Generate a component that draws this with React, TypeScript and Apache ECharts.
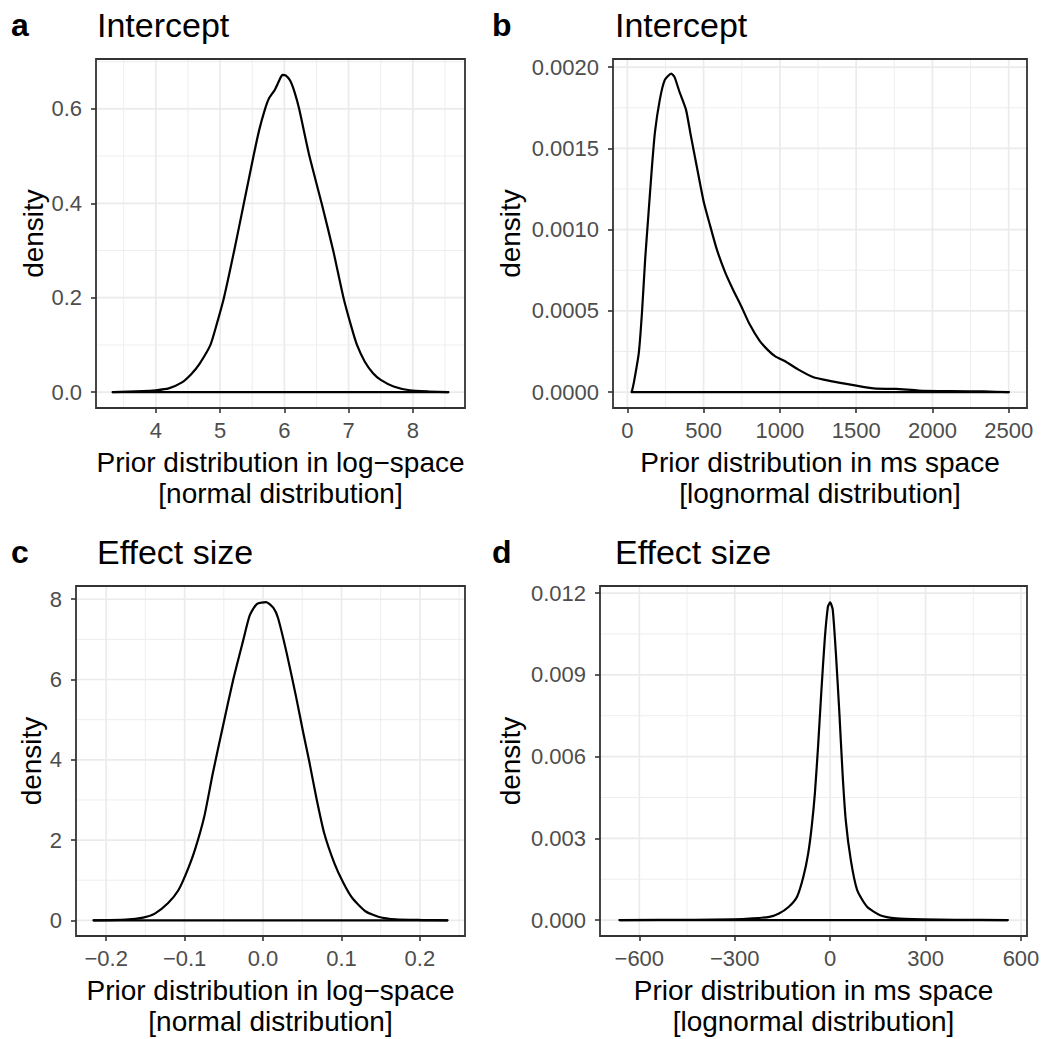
import React, { useEffect, useRef } from 'react';
import * as echarts from 'echarts';

const FONT = "'Liberation Sans', Arial, Helvetica, sans-serif";

// ---------- Panel a : Intercept, log-space (normal) ----------
const aDensity: [number, number][] = [
  [3.33, 0], [3.8, 0.002], [4.0, 0.004], [4.2, 0.008], [4.4, 0.02], [4.55, 0.038], [4.68, 0.06],
  [4.85, 0.1], [4.95, 0.145], [5.06, 0.2], [5.22, 0.3], [5.37, 0.4], [5.52, 0.5], [5.61, 0.556],
  [5.7, 0.6], [5.76, 0.622], [5.85, 0.64], [5.92, 0.66], [5.97, 0.672], [6.02, 0.671], [6.09, 0.66],
  [6.16, 0.635], [6.23, 0.6], [6.39, 0.5], [6.58, 0.4], [6.76, 0.3], [6.92, 0.2], [7.05, 0.135],
  [7.13, 0.1], [7.25, 0.065], [7.38, 0.04], [7.5, 0.026], [7.7, 0.012], [7.95, 0.004], [8.25, 0.0014],
  [8.55, 0],
];
const aXTicks = [4, 5, 6, 7, 8];
const aXMinor = [3.5, 4.5, 5.5, 6.5, 7.5, 8.5];
const aYTicks = [0, 0.2, 0.4, 0.6];
const aYMinor = [0.1, 0.3, 0.5, 0.7];

// ---------- Panel b : Intercept, ms space (lognormal) ----------
const bDensity: [number, number][] = [
  [29, 0], [43, 0.00006], [75, 0.00024], [96, 0.00049], [117, 0.00082], [138, 0.00109], [160, 0.00137],
  [181, 0.0016], [213, 0.0018], [245, 0.00192], [288, 0.00196], [309, 0.00194], [341, 0.00185],
  [384, 0.00174], [416, 0.00158], [459, 0.00137], [501, 0.00117], [544, 0.00102], [586, 0.00088],
  [640, 0.00074], [693, 0.00063], [746, 0.00053], [800, 0.00042], [864, 0.00032], [920, 0.00026],
  [970, 0.00022], [1034, 0.00019], [1119, 0.00014], [1216, 0.000093], [1333, 0.000068], [1482, 0.000043],
  [1631, 0.000021], [1760, 0.00002], [1909, 0.00001], [2122, 0.000006], [2336, 0.000004], [2500, 0],
];
const bXTicks = [0, 500, 1000, 1500, 2000, 2500];
const bXMinor = [250, 750, 1250, 1750, 2250];
const bYTicks = [0, 0.0005, 0.001, 0.0015, 0.002];
const bYMinor = [0.00025, 0.00075, 0.00125, 0.00175];

// ---------- Panel c : Effect size, log-space (normal) ----------
const cDensity: [number, number][] = [
  [-0.216, 0], [-0.175, 0.017], [-0.153, 0.067], [-0.138, 0.167], [-0.121, 0.43], [-0.108, 0.75],
  [-0.098, 1.17], [-0.087, 1.75], [-0.075, 2.58], [-0.064, 3.67], [-0.051, 4.85], [-0.038, 6.0],
  [-0.025, 7.0], [-0.017, 7.6], [-0.008, 7.88], [0.004, 7.93], [0.013, 7.79], [0.019, 7.54],
  [0.03, 6.67], [0.042, 5.58], [0.051, 4.7], [0.059, 3.95], [0.068, 3.05], [0.078, 2.17],
  [0.091, 1.42], [0.102, 0.95], [0.114, 0.55], [0.131, 0.22], [0.148, 0.083], [0.169, 0.025],
  [0.203, 0.008], [0.235, 0],
];
const cXTicks = [-0.2, -0.1, 0, 0.1, 0.2];
const cXMinor = [-0.15, -0.05, 0.05, 0.15, 0.25];
const cYTicks = [0, 2, 4, 6, 8];
const cYMinor = [1, 3, 5, 7];

// ---------- Panel d : Effect size, ms space (lognormal) ----------
const dDensity: [number, number][] = [
  [-662, 0], [-427, 0.000012], [-304, 0.000024], [-243, 0.00006], [-191, 0.00012], [-161, 0.00024],
  [-130, 0.00049], [-104, 0.00086], [-84, 0.0016], [-69, 0.00245], [-58, 0.00343], [-48, 0.00465],
  [-38, 0.00637], [-28, 0.00833], [-17, 0.0103], [-7, 0.0115], [0, 0.01166], [8, 0.0114],
  [18, 0.0098], [29, 0.0076], [39, 0.00539], [49, 0.00367], [65, 0.0022], [85, 0.0011],
  [116, 0.00049], [157, 0.00018], [208, 0.00006], [290, 0.000024], [392, 0.000012], [558, 0],
];
const dXTicks = [-600, -300, 0, 300, 600];
const dXMinor = [-450, -150, 150, 450];
const dYTicks = [0, 0.003, 0.006, 0.009, 0.012];
const dYMinor = [0.0015, 0.0045, 0.0075, 0.0105];

const tags = ['a', 'b', 'c', 'd'];
const titles = ['Intercept', 'Intercept', 'Effect size', 'Effect size'];
const xTitles = [
  'Prior distribution in log\u2212space\n[normal distribution]',
  'Prior distribution in ms space\n[lognormal distribution]',
  'Prior distribution in log\u2212space\n[normal distribution]',
  'Prior distribution in ms space\n[lognormal distribution]',
];
const yTitle = 'density';

const minus = (s: string) => s.replace('-', '\u2212');

const panels = [
  {
    data: aDensity, xT: aXTicks, xM: aXMinor, yT: aYTicks, yM: aYMinor,
    grid: { left: 96, top: 59, width: 369, height: 349 },
    xr: [3.069, 8.811], yr: [-0.0336, 0.7056],
    xf: (v: number) => String(v), yf: (v: number) => v.toFixed(1), yGap: 49,
  },
  {
    data: bDensity, xT: bXTicks, xM: bXMinor, yT: bYTicks, yM: bYMinor,
    grid: { left: 613, top: 59, width: 414, height: 349 },
    xr: [-94, 2620], yr: [-0.0000978, 0.00205],
    xf: (v: number) => String(v), yf: (v: number) => v.toFixed(4), yGap: 89,
  },
  {
    data: cDensity, xT: cXTicks, xM: cXMinor, yT: cYTicks, yM: cYMinor,
    grid: { left: 76, top: 586, width: 389, height: 350 },
    xr: [-0.2385, 0.2575], yr: [-0.39, 8.33],
    xf: (v: number) => minus(v.toFixed(1)), yf: (v: number) => String(v), yGap: 29,
  },
  {
    data: dDensity, xT: dXTicks, xM: dXMinor, yT: dYTicks, yM: dYMinor,
    grid: { left: 600, top: 586, width: 427, height: 350 },
    xr: [-723.6, 618.9], yr: [-0.000584, 0.01226],
    xf: (v: number) => minus(String(v)), yf: (v: number) => v.toFixed(3), yGap: 76,
  },
];

// kind: 0 = x major, 1 = x minor, 2 = y major, 3 = y minor
function gridRenderer(xr: number[], yr: number[]) {
  return (params: any, api: any) => {
    const v = api.value(0);
    const kind = api.value(1);
    const isX = kind < 2;
    const p1 = isX ? api.coord([v, yr[0]]) : api.coord([xr[0], v]);
    const p2 = isX ? api.coord([v, yr[1]]) : api.coord([xr[1], v]);
    const w = kind % 2 === 0 ? 1.7 : 0.85;
    return {
      type: 'line',
      shape: { x1: p1[0], y1: p1[1], x2: p2[0], y2: p2[1] },
      style: { stroke: '#ebebeb', lineWidth: w },
      silent: true,
    };
  };
}

function buildOption() {
  const grids: any[] = [];
  const xAxes: any[] = [];
  const yAxes: any[] = [];
  const series: any[] = [];
  const graphics: any[] = [];

  panels.forEach((p, i) => {
    grids.push({
      ...p.grid,
      show: false,
      containLabel: false,
      outerBoundsMode: 'none',
    });
    const tickStyle = { show: true, length: 5, inside: false, lineStyle: { color: '#333333', width: 1.6 } };
    const labelBase = { color: '#4d4d4d', fontSize: 22, fontFamily: FONT };
    xAxes.push({
      type: 'value', gridIndex: i, min: p.xr[0], max: p.xr[1],
      axisLine: { show: false, onZero: false },
      axisTick: { ...tickStyle, customValues: p.xT },
      axisLabel: { ...labelBase, margin: 11, customValues: p.xT, formatter: p.xf },
      splitLine: { show: false },
      name: xTitles[i], nameLocation: 'middle', nameGap: 39,
      nameTextStyle: { color: '#000', fontSize: 28, fontFamily: FONT, lineHeight: 31 },
    });
    yAxes.push({
      type: 'value', gridIndex: i, min: p.yr[0], max: p.yr[1],
      axisLine: { show: false, onZero: false },
      axisTick: { ...tickStyle, customValues: p.yT },
      axisLabel: { ...labelBase, margin: 14, customValues: p.yT, formatter: p.yf },
      splitLine: { show: false },
      name: yTitle, nameLocation: 'middle', nameGap: p.yGap,
      nameTextStyle: { color: '#000', fontSize: 28, fontFamily: FONT },
    });

    const gridData: number[][] = [];
    p.xM.forEach((v) => gridData.push([v, 1]));
    p.yM.forEach((v) => gridData.push([v, 3]));
    p.xT.forEach((v) => gridData.push([v, 0]));
    p.yT.forEach((v) => gridData.push([v, 2]));
    series.push({
      type: 'custom', xAxisIndex: i, yAxisIndex: i, z: 1, silent: true, clip: true,
      encode: { x: -1, y: -1 },
      renderItem: gridRenderer(p.xr, p.yr),
      data: gridData,
    });

    // density outline
    series.push({
      type: 'line', xAxisIndex: i, yAxisIndex: i, data: p.data, z: 5,
      showSymbol: false, symbol: 'none', smooth: 0.2, silent: true,
      lineStyle: { color: '#000000', width: 2.2, join: 'round', cap: 'round' },
    });
    // baseline of the density polygon
    series.push({
      type: 'line', xAxisIndex: i, yAxisIndex: i, data: [p.data[0], p.data[p.data.length - 1]], z: 5,
      showSymbol: false, symbol: 'none', silent: true,
      lineStyle: { color: '#000000', width: 2.2, cap: 'round' },
    });

    const rowBase = i < 2 ? 25 : 552;
    const tagX = i % 2 === 0 ? 11 : 492;
    const titleX = i % 2 === 0 ? 97 : 615;
    graphics.push({
      type: 'text', x: tagX, y: rowBase,
      style: { text: tags[i], font: `bold 32px ${FONT}`, fill: '#000', verticalAlign: 'middle', align: 'left' },
    });
    graphics.push({
      type: 'text', x: titleX, y: rowBase,
      style: { text: titles[i], font: `34px ${FONT}`, fill: '#000', verticalAlign: 'middle', align: 'left' },
    });
    // panel border
    graphics.push({
      type: 'rect', z: 100, silent: true,
      shape: { x: p.grid.left, y: p.grid.top, width: p.grid.width, height: p.grid.height },
      style: { fill: 'none', stroke: '#333333', lineWidth: 1.8 },
    });
  });

  return {
    animation: false,
    backgroundColor: '#ffffff',
    grid: grids,
    xAxis: xAxes,
    yAxis: yAxes,
    series,
    graphic: graphics,
  };
}

export default function App() {
  const ref = useRef<HTMLDivElement>(null);
  useEffect(() => {
    if (!ref.current) return;
    const chart = echarts.init(ref.current, null, { renderer: 'svg' });
    chart.setOption(buildOption() as any);
    return () => chart.dispose();
  }, []);
  return (
    <div
      ref={ref}
      style={{ position: 'absolute', left: 0, top: 0, width: 1057, height: 1039, background: '#fff' }}
    />
  );
}
